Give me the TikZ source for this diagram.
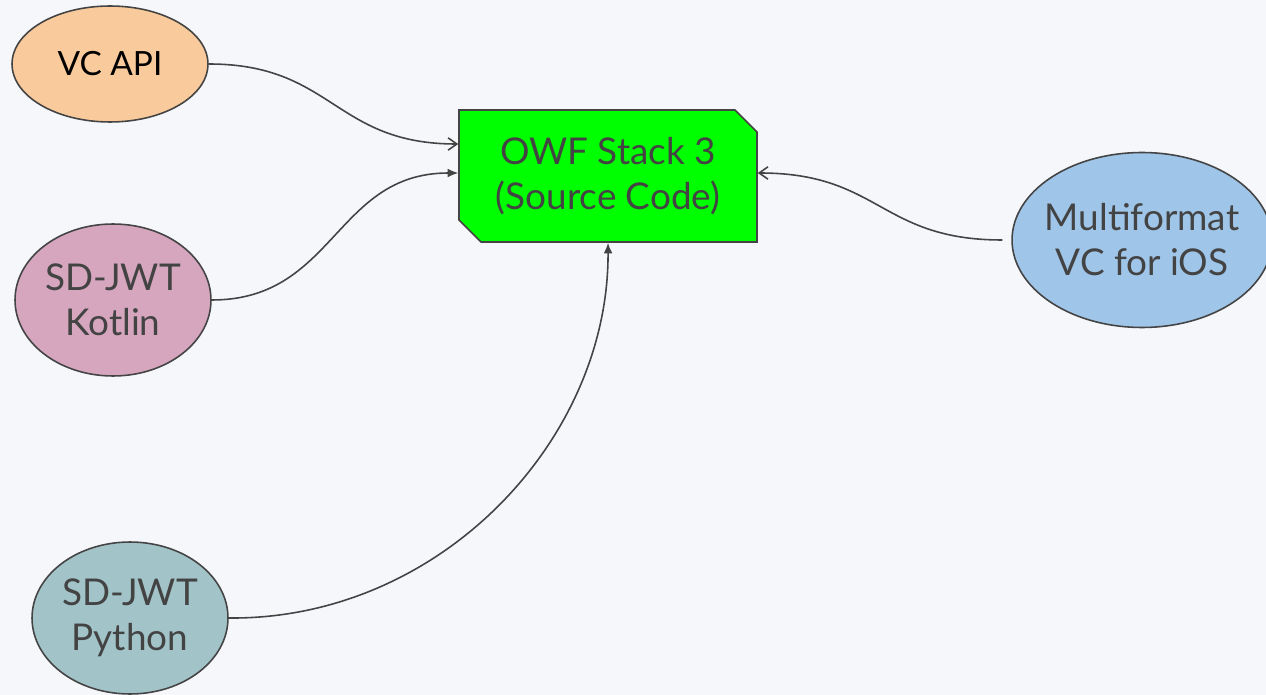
\documentclass[tikz,border=0pt]{standalone}
\usepackage{fontspec}
\setmainfont{Lato}
\usepackage{xcolor}
\usetikzlibrary{arrows.meta}
\usetikzlibrary{shapes.geometric}
\usetikzlibrary{shapes.misc}

\definecolor{hintergrund}{HTML}{F5F7FB}
\definecolor{rand}{HTML}{444444}
\definecolor{schrift}{HTML}{434343}
\definecolor{pfirsich}{HTML}{F9CB9C}
\definecolor{rosa}{HTML}{D5A6BD}
\definecolor{petrol}{HTML}{A2C4C9}
\definecolor{hellblau}{HTML}{9FC5E8}
\definecolor{gruen}{HTML}{00FF00}

\begin{document}
\begin{tikzpicture}[x=0.02cm,y=-0.02cm,
  quelle/.style={ellipse, draw=rand, line width=0.9pt, inner sep=0pt, align=center,
    text=schrift, font=\fontsize{21}{25.6}\selectfont},
  stapel/.style={chamfered rectangle, chamfered rectangle corners={north east, south west},
    chamfered rectangle sep=0.22cm, draw=rand, line width=0.9pt, fill=gruen,
    minimum width=5.96cm, minimum height=2.64cm, inner sep=0pt, align=center,
    text=schrift, font=\fontsize{21}{25.6}\selectfont},
  offen/.style={draw=rand, line width=0.9pt, -{Straight Barb[length=5pt,width=7pt]}},
  voll/.style={draw=rand, line width=0.9pt, -{Latex[length=6pt,width=5pt]}}]

% Hintergrund
\fill[hintergrund] (0,0) rectangle (1266,695);
\useasboundingbox (0,0) rectangle (1266,695);

% Knoten
\node[stapel] (owf) at (608,176) {OWF Stack 3\\(Source Code)};
\node[quelle, fill=pfirsich, text=black, font=\fontsize{19}{24}\selectfont,
  minimum width=3.92cm, minimum height=2.32cm] (vcapi) at (110,64) {VC API};
\node[quelle, fill=rosa, minimum width=3.92cm, minimum height=3.04cm] (kotlin) at (113,300) {SD-JWT\\Kotlin};
\node[quelle, fill=petrol, minimum width=3.92cm, minimum height=3.04cm] (python) at (130,618) {SD-JWT\\Python};
\node[quelle, fill=hellblau, inner xsep=-0.15cm, minimum width=5.2cm, minimum height=3.5cm] (ios) at (1142,240) {Multiformat\\VC for iOS};

% Verbindungen
\draw[offen] (vcapi.east) .. controls (333,64) and (334,144) .. ([yshift=0.64cm]owf.west);
\draw[voll] (kotlin.east) .. controls (335,300) and (335,173) .. ([yshift=0.06cm]owf.west);
\draw[voll] (python.east) .. controls (440,620) and (609,440) .. (owf.south);
\draw[offen, shorten <=0.18cm] (ios.west) .. controls (880,240) and (880,173) .. ([yshift=0.06cm]owf.east);

\end{tikzpicture}
\end{document}
